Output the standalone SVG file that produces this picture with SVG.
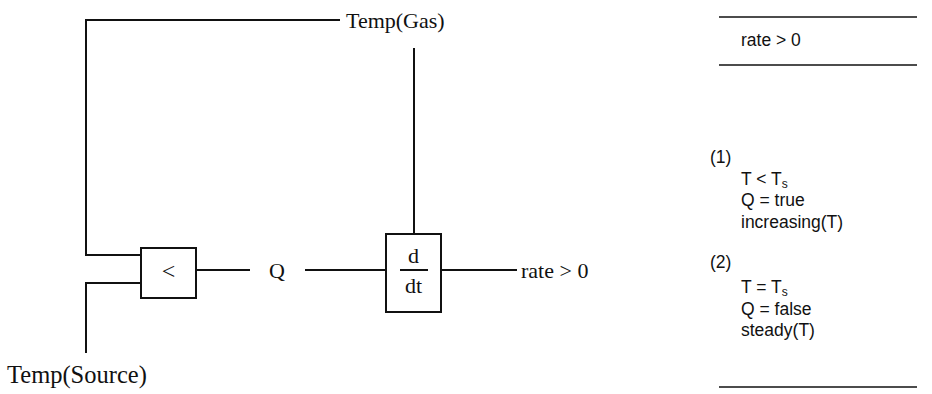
<svg xmlns="http://www.w3.org/2000/svg" width="932" height="394" viewBox="0 0 932 394">
<style>
.ln{stroke:#111;stroke-width:2;fill:none}
.tl{stroke:#111;stroke-width:1.6;fill:none}
.bx{stroke:#111;stroke-width:2;fill:#fff}
.sf{font-family:"Liberation Serif","Times New Roman",serif;font-size:22px;fill:#111}
.ss{font-family:"Liberation Sans",Arial,sans-serif;font-size:17.5px;fill:#111}
.sub{font-size:12px}
</style>
<rect width="932" height="394" fill="#fff"/>
<g id="connectors">
<polyline class="ln" points="340,20 86,20 86,255 141,255"/>
<polyline class="ln" points="141,283 86,283 86,353"/>
<line class="ln" x1="414" y1="48" x2="414" y2="234"/>
<line class="ln" x1="196" y1="270" x2="250" y2="270"/>
<line class="ln" x1="305" y1="270" x2="386" y2="270"/>
<line class="ln" x1="441" y1="270" x2="517" y2="270"/>
</g>
<g id="label-temp-gas"><text class="sf" x="346" y="28">Temp(Gas)</text></g>
<g id="label-temp-source"><text class="sf" x="7" y="383" style="font-size:24.5px">Temp(Source)</text></g>
<g id="node-less">
<rect class="bx" x="141" y="248" width="55" height="50"/>
<text class="sf" x="168.5" y="279" text-anchor="middle" style="font-size:24px">&lt;</text>
</g>
<g id="label-q"><text class="sf" x="277" y="278" text-anchor="middle">Q</text></g>
<g id="node-ddt">
<rect class="bx" x="386" y="234" width="55" height="78"/>
<text class="sf" x="413.5" y="263" text-anchor="middle">d</text>
<line class="ln" x1="400" y1="270" x2="428" y2="270"/>
<text class="sf" x="413.5" y="293" text-anchor="middle">dt</text>
</g>
<g id="label-rate"><text class="sf" x="521" y="278">rate &gt; 0</text></g>
<g id="table">
<line class="tl" x1="719" y1="17" x2="917" y2="17"/>
<line class="tl" x1="719" y1="65" x2="917" y2="65"/>
<line class="tl" x1="719" y1="387" x2="917" y2="387"/>
<text class="ss" x="741" y="46">rate &gt; 0</text>
<text class="ss" x="710" y="163">(1)</text>
<text class="ss" x="741" y="185">T &lt; T<tspan class="sub" dy="3">s</tspan></text>
<text class="ss" x="741" y="206">Q = true</text>
<text class="ss" x="741" y="228">increasing(T)</text>
<text class="ss" x="710" y="268">(2)</text>
<text class="ss" x="741" y="293">T = T<tspan class="sub" dy="3">s</tspan></text>
<text class="ss" x="741" y="315">Q = false</text>
<text class="ss" x="741" y="336">steady(T)</text>
</g>
</svg>
